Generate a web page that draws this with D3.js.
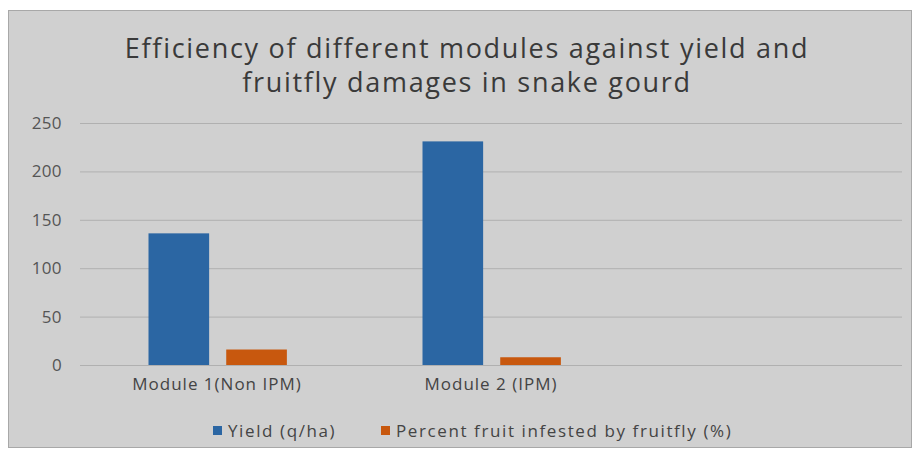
<!DOCTYPE html>
<html lang="en">
<head>
  <meta charset="UTF-8">
  <title>Efficiency of different modules</title>
  <script src="https://cdn.jsdelivr.net/npm/d3@7"></script>
  <style>
    body { margin: 0; background: #fff; }
    text { font-family: "Open Sans", sans-serif; }
  </style>
</head>
<body>
  <div id="box"></div>
  <script>
    // data
    const categories = ['Module 1(Non IPM)', 'Module 2 (IPM)', '']
    const seriesNames = ['Yield (q/ha)', 'Percent fruit infested by fruitfly (%)']
    const yieldValues = [136, 231, null]
    const infestedValues = [16, 8, null]
    const yTicks = [0, 50, 100, 150, 200, 250]
    const titleLines = ['Efficiency of different modules against yield and', 'fruitfly damages in snake gourd']

    const width = 917
    const height = 455
    const margin = { left: 80, right: 15, top: 123, bottom: 90 }
    const colors = ['#2b66a3', '#c8580e']

    const svg = d3.select('#box').append('svg')
      .attr('width', width)
      .attr('height', height)

    // chart area frame
    svg.append('rect')
      .attr('x', 8.5).attr('y', 10.5)
      .attr('width', 903).attr('height', 437)
      .attr('fill', '#d0d0d0')
      .attr('stroke', '#a8a8a8')

    // title
    svg.append('g').selectAll('text')
      .data(titleLines)
      .join('text')
      .attr('x', 467)
      .attr('y', (d, i) => 58 + i * 34)
      .attr('text-anchor', 'middle')
      .attr('font-size', 27)
      .attr('letter-spacing', 1.7)
      .attr('fill', '#3a3a3a')
      .text(d => d)

    // scales
    const x0 = d3.scaleBand().domain(categories).range([margin.left, width - margin.right])
    const x1 = d3.scaleBand().domain(seriesNames).range([x0.bandwidth() * 0.25, x0.bandwidth() * 0.755]).paddingInner(0.22)
    const y = d3.scaleLinear().domain([0, 250]).range([365, margin.top])

    // gridlines
    svg.append('g')
      .attr('transform', `translate(${margin.left},0)`)
      .call(d3.axisLeft(y).tickValues(yTicks).tickSize(-(width - margin.right - margin.left)).tickFormat(''))
      .call(g => g.select('.domain').remove())
      .call(g => g.selectAll('line').attr('stroke', '#b0b0b0'))

    // y axis labels
    svg.append('g')
      .attr('transform', `translate(${margin.left},0)`)
      .call(d3.axisLeft(y).tickValues(yTicks).tickSize(0).tickPadding(18))
      .call(g => g.select('.domain').remove())
      .call(g => g.selectAll('text').attr('font-size', 17).attr('letter-spacing', 0.4).attr('fill', '#555').attr('font-family', 'Open Sans'))

    // x axis labels
    svg.append('g')
      .attr('transform', `translate(0,365)`)
      .call(d3.axisBottom(x0).tickSize(0).tickPadding(13))
      .call(g => g.select('.domain').remove())
      .call(g => g.selectAll('text').attr('font-size', 17).attr('letter-spacing', 1).attr('fill', '#444').attr('font-family', 'Open Sans'))

    // bars
    const rows = categories.map((c, i) => ({ cat: c, vals: [yieldValues[i], infestedValues[i]] }))
    svg.append('g').selectAll('g')
      .data(rows)
      .join('g')
      .attr('transform', d => `translate(${x0(d.cat)},0)`)
      .selectAll('rect')
      .data(d => d.vals.map((v, j) => ({ name: seriesNames[j], v, j })).filter(e => e.v != null))
      .join('rect')
      .attr('x', d => x1(d.name))
      .attr('width', x1.bandwidth())
      .attr('y', d => y(d.v))
      .attr('height', d => y(0) - y(d.v))
      .attr('fill', d => colors[d.j])

    // legend
    const legendX = [213, 381]
    const legend = svg.append('g').selectAll('g')
      .data(seriesNames)
      .join('g')
      .attr('transform', (d, i) => `translate(${legendX[i]},430)`)
    legend.append('rect')
      .attr('x', 0).attr('y', -4)
      .attr('width', 9).attr('height', 9)
      .attr('fill', (d, i) => colors[i])
    legend.append('text')
      .attr('x', 15).attr('y', 7)
      .attr('font-size', 17)
      .attr('letter-spacing', 1.6)
      .attr('fill', '#444')
      .text(d => d)
  </script>
</body>
</html>
